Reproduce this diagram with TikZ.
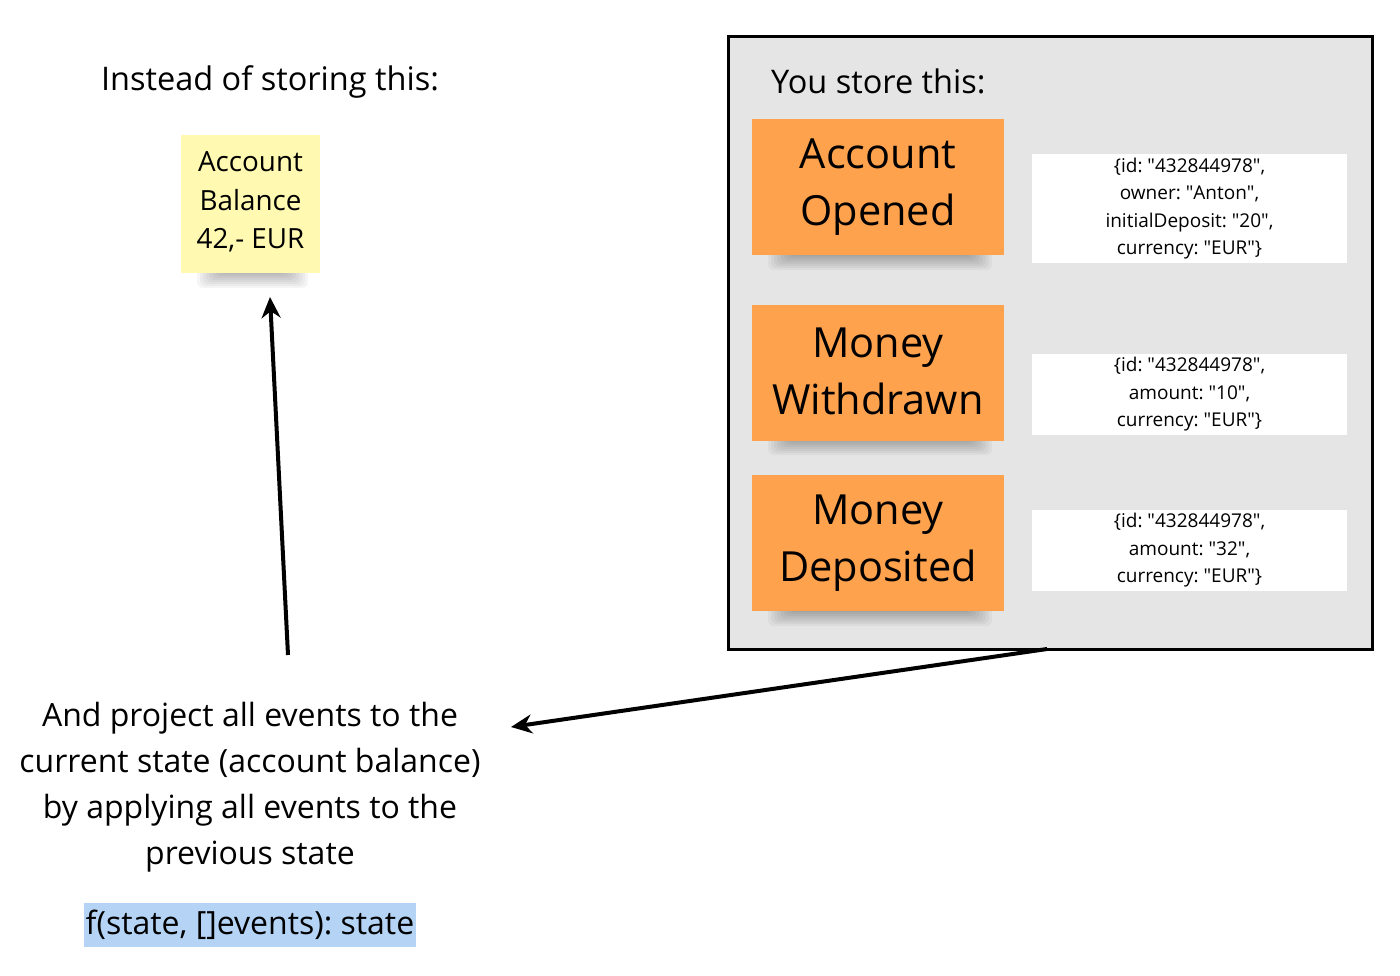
\documentclass[tikz,border=0pt]{standalone}
\usepackage{fontspec}
\setmainfont{Open Sans}
\usetikzlibrary{arrows.meta}
\definecolor{boxgray}{RGB}{229,229,229}
\definecolor{orangenote}{RGB}{255,162,77}
\definecolor{yellownote}{RGB}{255,249,177}
\definecolor{hl}{RGB}{180,211,245}
\newcommand{\q}{\textquotedbl}
\tikzset{
  label28/.style={font=\fontsize{32.5}{38}\selectfont, inner sep=0},
  orangebox/.style={fill=orangenote, minimum width=252, minimum height=136, inner sep=0, align=center, font=\fontsize{41.5}{57}\selectfont},
  yellowbox/.style={fill=yellownote, minimum width=139, minimum height=138, inner sep=0, align=center, font=\fontsize{27.8}{38.5}\selectfont},
  jsonbox/.style={fill=white, minimum width=315, inner sep=0, align=center, font=\fontsize{19}{27.5}\selectfont},
  conn/.style={line width=4, -{Stealth[length=21, width=19]}},
  bodytext/.style={align=center, inner sep=0, font=\fontsize{32}{46}\selectfont},
}
\newcommand{\notesh}[3]{% x1, x2, ybottom
  \foreach \k in {0,...,7}{
    \fill[black, opacity=0.04, rounded corners=6]
      ({#1+16+3*\k},{#3-6}) rectangle ({#2-12-3*\k},{#3+15-2*\k});
  }
}
\begin{document}
\frenchspacing
\begin{tikzpicture}[x=1pt,y=-1pt]
\useasboundingbox (0,0) rectangle (1400,975);

% left title
\node[label28] (t1) at (270,82) {Instead of storing this:};

% yellow sticky with shadow
\notesh{181}{320}{273}
\fill[yellownote] (181,135) rectangle (320,273);
\node[yellowbox, fill=none] (bal) at (250.5,202) {Account\\Balance\\42,- EUR};

% gray store box
\node[draw=black, line width=3, fill=boxgray, minimum width=644, minimum height=613, inner sep=0, anchor=north west] (store) at (727,35) {};
\node[label28, anchor=west] (t2) at (771,81) {You store this:};

% orange events
\notesh{752}{1004}{255}
\node[orangebox] (e1) at (878,187) {Account\\Opened};
\notesh{752}{1004}{440}
\node[orangebox] (e2) at (878,372.5) {\raisebox{3pt}{Money}\\\raisebox{3pt}{Withdrawn}};
\notesh{752}{1004}{611}
\node[orangebox] (e3) at (878,543) {\raisebox{2pt}{Money}\\\raisebox{2pt}{Deposited}};

% json boxes
\node[jsonbox, minimum height=109] (j1) at (1189.5,208.5) {\raisebox{-2pt}{\{id: \q432844978\q,}\\\raisebox{-2pt}{owner: \q Anton\q,}\\\raisebox{-2pt}{initialDeposit: \q20\q,}\\\raisebox{-2pt}{currency: \q EUR\q\}}};
\node[jsonbox, minimum height=81] (j2) at (1189.5,394.5) {\raisebox{-2pt}{\{id: \q432844978\q,}\\\raisebox{-2pt}{amount: \q10\q,}\\\raisebox{-2pt}{currency: \q EUR\q\}}};
\node[jsonbox, minimum height=81] (j3) at (1189.5,550.5) {\raisebox{-2pt}{\{id: \q432844978\q,}\\\raisebox{-2pt}{amount: \q32\q,}\\\raisebox{-2pt}{currency: \q EUR\q\}}};

% bottom text
\node[bodytext] (proj) at (250,787) {And project all events to the\\current state (account balance)\\by applying all events to the\\previous state};
\node[fill=hl, minimum width=332, minimum height=44, inner sep=0, font=\fontsize{32}{36}\selectfont] (f) at (250,925) {\raisebox{-2pt}{f(state, []events): state}};

% connectors
\coordinate (upstart) at (288,655);
\coordinate (uptip) at (270,297);
\draw[conn] (upstart) -- (uptip);
\coordinate (storeout) at (1047,649);
\coordinate (projin) at (511,727);
\draw[conn] (storeout) -- (projin);
\end{tikzpicture}
\end{document}
